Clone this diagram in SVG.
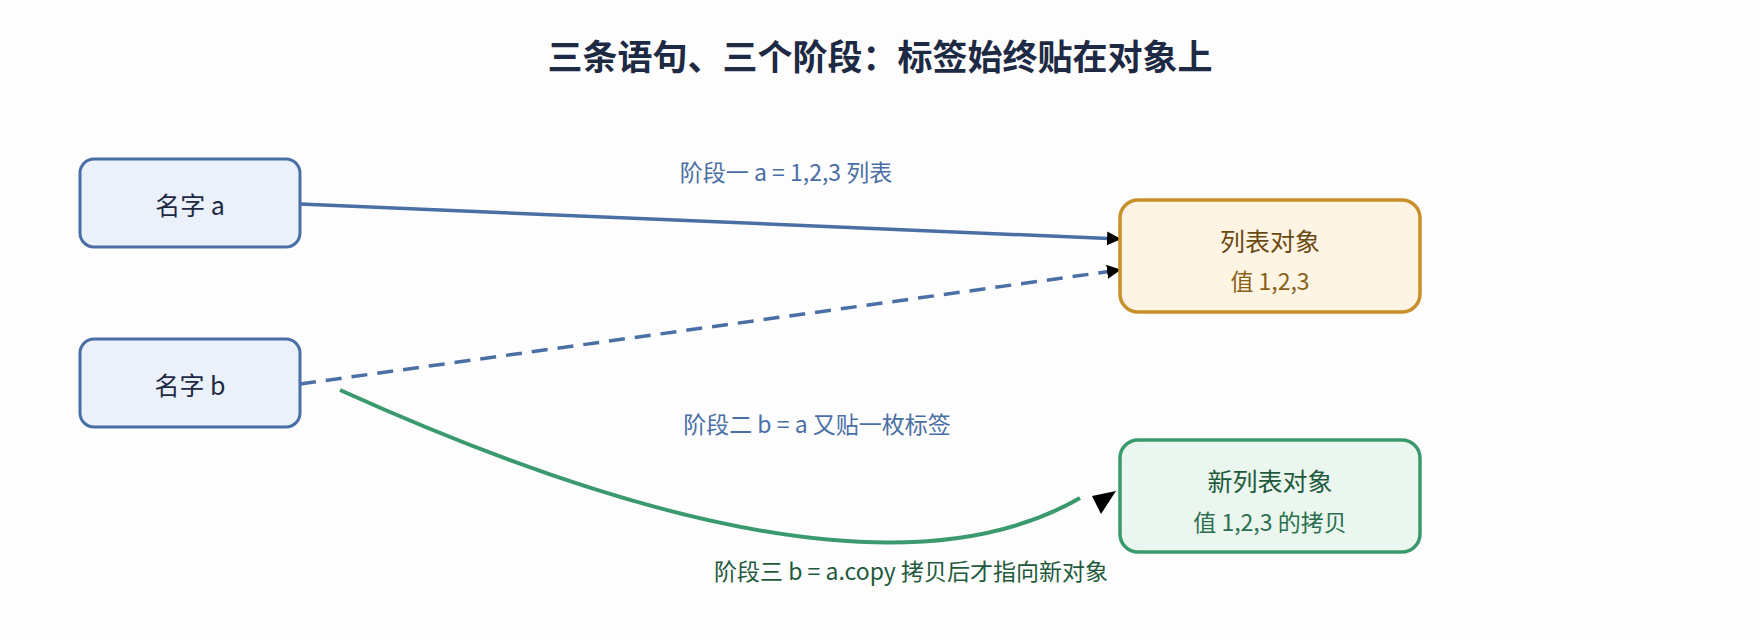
<svg xmlns="http://www.w3.org/2000/svg" width="1760" height="640" viewBox="0 0 1760 640">
<style>
text{font-family:"Noto Sans CJK SC","Noto Sans",sans-serif;text-anchor:middle;dominant-baseline:central}
.name rect{fill:#eaf1fb;stroke:#4a6fa5;stroke-width:3}
.name text{fill:#1e2a44;font-size:25px}
.lbl{font-size:23px}
</style>
<defs>
<marker id="ab" markerUnits="userSpaceOnUse" markerWidth="14" markerHeight="14" viewBox="0 0 14 14" refX="13" refY="7" orient="auto"><path d="M0,0 L14,7 L0,14 z" fill="#000"/></marker>
</defs>
<rect width="1760" height="640" fill="#fdfdfe"/>
<text x="880" y="54" font-size="35" font-weight="bold" fill="#1e2a44">三条语句、三个阶段：标签始终贴在对象上</text>
<g id="edges" fill="none">
<path d="M300,204 L1120,239" stroke="#4a6fa5" stroke-width="3.5" marker-end="url(#ab)"/>
<path d="M300,384 L1120,270" stroke="#4a6fa5" stroke-width="3.5" stroke-dasharray="16,10" marker-end="url(#ab)"/>
<path d="M340,390 Q860,625 1080,498" stroke="#3a9a6e" stroke-width="4"/>
<polygon points="1092,496 1116,491 1101,514" fill="#000"/>
<text class="lbl" x="786" y="171" fill="#4a6fa5" stroke="none">阶段一 a = 1,2,3 列表</text>
<text class="lbl" x="817" y="423" fill="#4a6fa5" stroke="none">阶段二 b = a 又贴一枚标签</text>
<text class="lbl" x="911" y="570" fill="#1f5a3d" stroke="none">阶段三 b = a.copy 拷贝后才指向新对象</text>
</g>
<g id="name_a" class="name"><rect x="80" y="159" width="220" height="88" rx="14"/><text x="190" y="204">名字 a</text></g>
<g id="name_b" class="name"><rect x="80" y="339" width="220" height="88" rx="14"/><text x="190" y="384">名字 b</text></g>
<g id="list_obj"><rect x="1120" y="200" width="300" height="112" rx="18" fill="#fdf4e3" stroke="#c98f2a" stroke-width="3.5"/><text x="1270" y="240" font-size="25" fill="#6b4a12">列表对象</text><text x="1270" y="280" font-size="23" fill="#8a6016">值 1,2,3</text></g>
<g id="new_list_obj"><rect x="1120" y="440" width="300" height="112" rx="18" fill="#eaf6ee" stroke="#3a9a6e" stroke-width="3.5"/><text x="1270" y="480" font-size="25" fill="#1f5a3d">新列表对象</text><text x="1270" y="521" font-size="23" fill="#2a7050">值 1,2,3 的拷贝</text></g>
</svg>
